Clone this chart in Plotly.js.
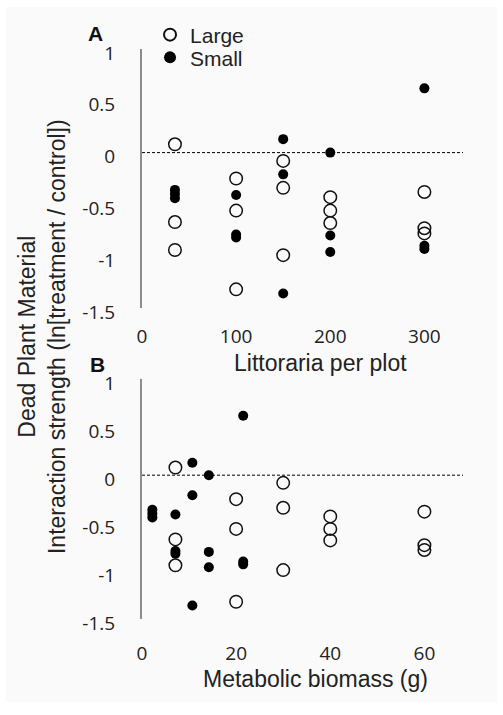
<!DOCTYPE html>
<html>
<head>
<meta charset="utf-8">
<script src="https://cdn.plot.ly/plotly-3.0.1.min.js"></script>
<style>html,body{margin:0;padding:0;background:#fff;}#chart{width:503px;height:715px;}</style>
</head>
<body>
<div id="chart"></div>
<script>
// Panel A: Littoraria per plot
const largeDensity = [35, 35, 35, 100, 100, 100, 150, 150, 150, 200, 200, 200, 300, 300, 300];
const smallDensity = [35, 35, 35, 100, 100, 100, 150, 150, 150, 200, 200, 200, 300, 300, 300];
// Panel B: metabolic biomass (g)
const largeBiomass = [7.1, 7.1, 7.1, 20, 20, 20, 30, 30, 30, 40, 40, 40, 60, 60, 60];
const smallBiomass = [2.2, 2.2, 2.2, 7.1, 7.1, 7.1, 10.7, 10.7, 10.7, 14.2, 14.2, 14.2, 21.5, 21.5, 21.5];
// Interaction strength ln[treatment / control]
const largeEffect = [0.08, -0.67, -0.94, -0.25, -0.56, -1.32, -0.08, -0.34, -0.99, -0.43, -0.56, -0.68, -0.38, -0.73, -0.78];
const smallEffect = [-0.36, -0.40, -0.44, -0.41, -0.79, -0.82, 0.13, -0.21, -1.36, 0.0, -0.80, -0.96, 0.62, -0.90, -0.93];

const densityTicks = [0, 100, 200, 300];
const biomassTicks = [0, 20, 40, 60];
const yTickVals = [-1.5, -1, -0.5, 0, 0.5, 1];
const yTickText = ['-1.5', '-1', '-0.5', '0', '0.5', '1'];

const seriesNames = ['Large', 'Small'];
const panelLabels = ['A', 'B'];
const xTitles = ['Littoraria per plot', 'Metabolic biomass (g)'];
const yTitle = 'Dead Plant Material<br>Interaction strength (ln[treatment / control])';

const largeMarker = {symbol: 'circle-open', size: 12.5, color: '#111', line: {width: 1.5, color: '#111'}};
const smallMarker = {symbol: 'circle', size: 10, color: '#000'};

const traces = [
  {x: largeDensity, y: largeEffect, xaxis: 'x', yaxis: 'y', type: 'scatter', mode: 'markers', name: seriesNames[0], legend: 'legend', legendgroup: 'L', marker: largeMarker, cliponaxis: false},
  {x: smallDensity, y: smallEffect, xaxis: 'x', yaxis: 'y', type: 'scatter', mode: 'markers', name: seriesNames[1], legend: 'legend2', legendgroup: 'S', marker: smallMarker, cliponaxis: false},
  {x: largeBiomass, y: largeEffect, xaxis: 'x2', yaxis: 'y2', type: 'scatter', mode: 'markers', name: seriesNames[0], legendgroup: 'L', showlegend: false, marker: largeMarker, cliponaxis: false},
  {x: smallBiomass, y: smallEffect, xaxis: 'x2', yaxis: 'y2', type: 'scatter', mode: 'markers', name: seriesNames[1], legendgroup: 'S', showlegend: false, marker: smallMarker, cliponaxis: false}
];

const tickFont = {family: 'Open Sans, sans-serif', size: 19, color: '#222'};
const titleFont = {family: 'Liberation Sans, Arial, sans-serif', size: 23, color: '#222'};
const legendFont = {family: 'Liberation Sans, Arial, sans-serif', size: 21, color: '#222'};

function xAxis(anchor, range, ticks, standoff) {
  return {anchor: anchor, range: range, tickmode: 'array', tickvals: ticks, ticktext: ticks.map(String),
    showline: false, ticks: '', showgrid: false, zeroline: false, tickfont: tickFont, ticklabelstandoff: standoff, fixedrange: true};
}
function yAxis(anchor, domain) {
  return {anchor: anchor, domain: domain, range: [-1.5, 1], tickmode: 'array', tickvals: yTickVals, ticktext: yTickText,
    showline: true, linecolor: '#8c8c8c', linewidth: 2, ticks: '', showgrid: false, zeroline: false,
    tickfont: tickFont, ticklabelstandoff: 21, ticklabelshift: 4, fixedrange: true};
}

const layout = {
  width: 503, height: 715,
  margin: {l: 142, r: 40, t: 49, b: 96},
  paper_bgcolor: '#ffffff',
  plot_bgcolor: 'rgba(0,0,0,0)',
  showlegend: true,
  legend: {x: 0.025, y: 1.0246, xanchor: 'left', yanchor: 'middle', bgcolor: 'rgba(0,0,0,0)', font: legendFont, itemsizing: 'constant'},
  legend2: {x: 0.025, y: 0.9847, xanchor: 'left', yanchor: 'middle', bgcolor: 'rgba(0,0,0,0)', font: legendFont, itemsizing: 'constant'},
  xaxis: xAxis('y', [0, 341], densityTicks, 15),
  yaxis: yAxis('x', [0.5456, 1]),
  xaxis2: xAxis('y2', [0, 68.2], biomassTicks, 21),
  yaxis2: yAxis('x2', [0, 0.4205]),
  shapes: [
    {type: 'rect', xref: 'paper', yref: 'paper', x0: -0.4237, x1: 1.1059, y0: -0.1456, y1: 1.0737, fillcolor: '#fafafa', line: {width: 0}, layer: 'below'},
    {type: 'line', xref: 'x domain', yref: 'y', x0: 0, x1: 1, y0: 0, y1: 0, line: {color: '#000', width: 1, dash: '3px,2px'}},
    {type: 'line', xref: 'x2 domain', yref: 'y2', x0: 0, x1: 1, y0: 0, y1: 0, line: {color: '#000', width: 1, dash: '3px,2px'}}
  ],
  annotations: [
    {text: '<b>' + panelLabels[0] + '</b>', xref: 'paper', yref: 'paper', x: -0.1449, y: 1.028, xanchor: 'center', yanchor: 'middle', showarrow: false, font: {family: 'Liberation Sans, Arial, sans-serif', size: 21, color: '#111'}},
    {text: '<b>' + panelLabels[1] + '</b>', xref: 'paper', yref: 'paper', x: -0.140, y: 0.447, xanchor: 'center', yanchor: 'middle', showarrow: false, font: {family: 'Liberation Sans, Arial, sans-serif', size: 21, color: '#111'}},
    {text: xTitles[0], xref: 'paper', yref: 'paper', x: 0.556, y: 0.449, xanchor: 'center', yanchor: 'middle', showarrow: false, font: titleFont},
    {text: xTitles[1], xref: 'paper', yref: 'paper', x: 0.542, y: -0.105, xanchor: 'center', yanchor: 'middle', showarrow: false, font: titleFont},
    {text: yTitle, xref: 'paper', yref: 'paper', x: -0.3115, y: 0.4947, xanchor: 'center', yanchor: 'middle', textangle: -90, showarrow: false, font: titleFont}
  ]
};

Plotly.newPlot('chart', traces, layout, {displayModeBar: false, staticPlot: true});
</script>
</body>
</html>
